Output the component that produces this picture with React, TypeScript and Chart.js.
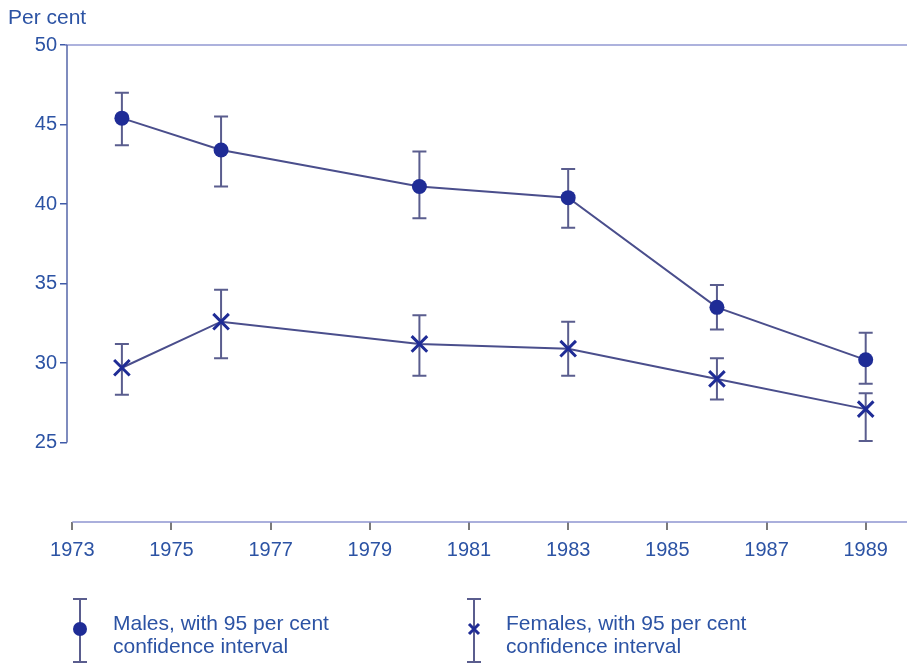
import React, { useEffect, useRef } from "react";
import { Chart, registerables } from "chart.js";

Chart.register(...registerables);

const years = [1974, 1976, 1980, 1983, 1986, 1989];
const maleValues = [45.4, 43.4, 41.1, 40.4, 33.5, 30.2];
const maleLow = [43.7, 41.1, 39.1, 38.5, 32.1, 28.7];
const maleHigh = [47.0, 45.5, 43.3, 42.2, 34.9, 31.9];
const femaleValues = [29.7, 32.6, 31.2, 30.9, 29.0, 27.1];
const femaleLow = [28.0, 30.3, 29.2, 29.2, 27.7, 25.1];
const femaleHigh = [31.2, 34.6, 33.0, 32.6, 30.3, 28.1];
const xTicks = [1973, 1975, 1977, 1979, 1981, 1983, 1985, 1987, 1989];
const yTicks = [25, 30, 35, 40, 45, 50];
const yAxisLabel = "Per cent";
const legendMales = ["Males, with 95 per cent", "confidence interval"];
const legendFemales = ["Females, with 95 per cent", "confidence interval"];

const TEXT = "#2c53a4";
const LINE = "#4a4e8c";
const MARK = "#1f2c96";
const ERR = "#5a5d8e";
const FONT = "'Liberation Sans', Arial, Helvetica, sans-serif";

function drawErrorBar(ctx: CanvasRenderingContext2D, x: number, y1: number, y2: number) {
  ctx.beginPath();
  ctx.moveTo(x, y1);
  ctx.lineTo(x, y2);
  ctx.moveTo(x - 7, y1);
  ctx.lineTo(x + 7, y1);
  ctx.moveTo(x - 7, y2);
  ctx.lineTo(x + 7, y2);
  ctx.stroke();
}

function drawCircle(ctx: CanvasRenderingContext2D, x: number, y: number, r: number) {
  ctx.fillStyle = MARK;
  ctx.beginPath();
  ctx.arc(x, y, r, 0, Math.PI * 2);
  ctx.fill();
}

function drawCross(ctx: CanvasRenderingContext2D, x: number, y: number, r: number, w: number) {
  ctx.strokeStyle = MARK;
  ctx.lineWidth = w;
  ctx.beginPath();
  ctx.moveTo(x - r, y - r);
  ctx.lineTo(x + r, y + r);
  ctx.moveTo(x - r, y + r);
  ctx.lineTo(x + r, y - r);
  ctx.stroke();
}

const framePlugin = {
  id: "frame",
  beforeDatasetsDraw(chart: any) {
    const ctx = chart.ctx as CanvasRenderingContext2D;
    const xs = chart.scales.x;
    const ys = chart.scales.y;
    ctx.save();
    ctx.strokeStyle = ERR;
    ctx.lineWidth = 2;
    years.forEach((yr, i) => {
      const px = xs.getPixelForValue(yr);
      drawErrorBar(ctx, px, ys.getPixelForValue(maleHigh[i]), ys.getPixelForValue(maleLow[i]));
      drawErrorBar(ctx, px, ys.getPixelForValue(femaleHigh[i]), ys.getPixelForValue(femaleLow[i]));
    });
    ctx.restore();
  },
  afterDraw(chart: any) {
    const ctx = chart.ctx as CanvasRenderingContext2D;
    const xs = chart.scales.x;
    const ys = chart.scales.y;
    const area = chart.chartArea;
    ctx.save();
    // top frame line
    ctx.strokeStyle = "#9298d2";
    ctx.lineWidth = 1.5;
    ctx.beginPath();
    ctx.moveTo(area.left - 2, ys.getPixelForValue(50));
    ctx.lineTo(area.right, ys.getPixelForValue(50));
    ctx.stroke();
    // y axis line
    ctx.strokeStyle = "#5566a8";
    ctx.lineWidth = 1.5;
    ctx.beginPath();
    ctx.moveTo(area.left, ys.getPixelForValue(50));
    ctx.lineTo(area.left, ys.getPixelForValue(25));
    ctx.stroke();
    // x axis line
    ctx.strokeStyle = "#8e94d0";
    ctx.lineWidth = 1.5;
    ctx.beginPath();
    ctx.moveTo(xs.getPixelForValue(1973), area.bottom);
    ctx.lineTo(area.right, area.bottom);
    ctx.stroke();
    // axis title
    ctx.fillStyle = TEXT;
    ctx.font = `21px ${FONT}`;
    ctx.textBaseline = "alphabetic";
    ctx.textAlign = "left";
    ctx.fillText(yAxisLabel, 8, 24);
    // legend
    const items = [
      { x: 80, tx: 113, lines: legendMales, kind: "circle" },
      { x: 474, tx: 506, lines: legendFemales, kind: "cross" },
    ];
    items.forEach((it) => {
      ctx.strokeStyle = ERR;
      ctx.lineWidth = 2;
      drawErrorBar(ctx, it.x, 599, 662);
      if (it.kind === "circle") drawCircle(ctx, it.x, 629, 7);
      else drawCross(ctx, it.x, 629, 5, 3);
      ctx.fillStyle = TEXT;
      ctx.font = `21px ${FONT}`;
      ctx.fillText(it.lines[0], it.tx, 630);
      ctx.fillText(it.lines[1], it.tx, 653);
    });
    ctx.restore();
  },
};

export default function App() {
  const canvasRef = useRef<HTMLCanvasElement | null>(null);

  useEffect(() => {
    if (!canvasRef.current) return;
    const chart = new Chart(canvasRef.current, {
      type: "scatter",
      data: {
        datasets: [
          {
            label: "Males",
            data: years.map((yr, i) => ({ x: yr, y: maleValues[i] })),
            showLine: true,
            borderColor: LINE,
            borderWidth: 2,
            pointStyle: "circle",
            pointRadius: 7.5,
            pointBackgroundColor: MARK,
            pointBorderColor: MARK,
            pointBorderWidth: 0,
          },
          {
            label: "Females",
            data: years.map((yr, i) => ({ x: yr, y: femaleValues[i] })),
            showLine: true,
            borderColor: LINE,
            borderWidth: 2,
            pointStyle: "crossRot",
            pointRadius: 11,
            pointBackgroundColor: MARK,
            pointBorderColor: MARK,
            pointBorderWidth: 3,
          },
        ],
      },
      options: {
        responsive: false,
        animation: false,
        layout: { autoPadding: false, padding: { top: 45, right: 1, left: 0, bottom: 0 } },
        plugins: {
          legend: { display: false },
          tooltip: { enabled: false },
        },
        scales: {
          x: {
            type: "linear",
            min: 1972.893,
            max: 1989.833,
            afterBuildTicks: (s: any) => {
              s.ticks = xTicks.map((v) => ({ value: v }));
            },
            afterFit: (s: any) => {
              s.height = 142;
              s.paddingLeft = 0;
              s.paddingRight = 0;
            },
            ticks: {
              color: TEXT,
              font: { family: FONT, size: 20 },
              padding: 8,
              autoSkip: false,
              maxRotation: 0,
              callback: (v: any) => String(v),
            },
            grid: {
              drawOnChartArea: false,
              drawTicks: true,
              tickLength: 8,
              color: "#7a7a7a",
              lineWidth: 2,
            },
            border: { display: false },
          },
          y: {
            type: "linear",
            min: 20,
            max: 50,
            afterBuildTicks: (s: any) => {
              s.ticks = yTicks.map((v) => ({ value: v }));
            },
            afterFit: (s: any) => {
              s.width = 67;
              s.paddingTop = 0;
              s.paddingBottom = 0;
            },
            ticks: {
              color: TEXT,
              font: { family: FONT, size: 20 },
              padding: 3,
              callback: (v: any) => String(v),
            },
            grid: {
              drawOnChartArea: false,
              drawTicks: true,
              tickLength: 7,
              color: "#3f5aa8",
              lineWidth: 1.5,
            },
            border: { display: false },
          },
        },
      } as any,
      plugins: [framePlugin],
    });
    return () => chart.destroy();
  }, []);

  return (
    <div style={{ position: "absolute", left: 0, top: 0, width: 908, height: 664, background: "#fff" }}>
      <canvas ref={canvasRef} width={908} height={664} style={{ display: "block" }} />
    </div>
  );
}
